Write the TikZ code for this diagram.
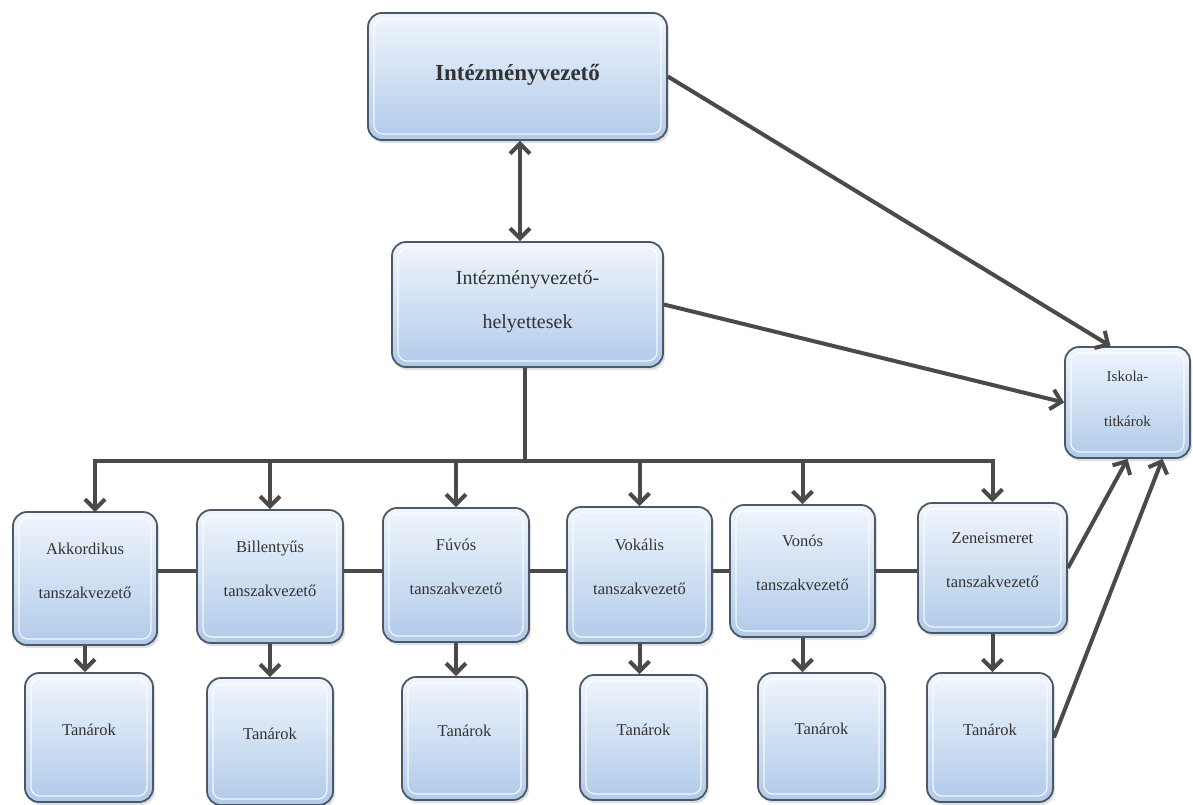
\documentclass[tikz,border=0pt]{standalone}
\usepackage{fontspec}
\setmainfont{Liberation Serif}
\usetikzlibrary{arrows.meta,shadows}
\definecolor{edge}{HTML}{4A4A4A}
\definecolor{boxline}{HTML}{4D5866}
\definecolor{boxtop}{HTML}{F0F6FD}
\definecolor{boxbot}{HTML}{B0CAE9}
\definecolor{txt}{HTML}{333333}
\begin{document}
\begin{tikzpicture}[x=1pt,y=-1pt,
  box/.style={draw=boxline, line width=1.8pt, rounded corners=14pt,
    top color=boxtop, bottom color=boxbot, inner sep=0pt, align=center, text=txt,
    drop shadow={shadow xshift=2pt,shadow yshift=-3pt,opacity=0.25},
    path picture={\draw[white, opacity=0.85, line width=1.2pt, rounded corners=9pt]
      ([xshift=6pt,yshift=6pt]path picture bounding box.south west) rectangle
      ([xshift=-6pt,yshift=-6pt]path picture bounding box.north east);}},
  small/.style={font=\fontsize{16.5}{44}\selectfont},
  conn/.style={draw=edge, line width=4pt},
  arr/.style={conn, -{Straight Barb[length=10pt,width=20pt]}},
  arrb/.style={conn, {Straight Barb[length=10pt,width=20pt]}-{Straight Barb[length=10pt,width=20pt]}}
]
\path[use as bounding box, fill=white] (0,0) rectangle (1193,805);

% top and middle
\node[box, font=\fontsize{23}{28}\selectfont\bfseries, minimum width=299pt, minimum height=127pt] (top) at (517.5,76.5) {Intézményvezető\\[-20pt]};
\node[box, font=\fontsize{20}{44}\selectfont, minimum width=271pt, minimum height=125pt] (mid) at (527.5,304.5) {Intézményvezető-\\helyettesek\\[-34pt]};
\node[box, font=\fontsize{15}{45}\selectfont, minimum width=125pt, minimum height=111pt] (isk) at (1127.5,402.5) {Iskola-\\titkárok\\[-37pt]};

% department heads
\node[box, small, minimum width=144pt, minimum height=133pt] (akk) at (85,578.5) {Akkordikus\\tanszakvezető\\[-28pt]};
\node[box, small, minimum width=146pt, minimum height=133pt] (bil) at (270,576.5) {Billentyűs\\tanszakvezető\\[-28pt]};
\node[box, small, minimum width=146pt, minimum height=134pt] (fuv) at (456,575) {Fúvós\\tanszakvezető\\[-28pt]};
\node[box, small, minimum width=145pt, minimum height=136pt] (vok) at (639.5,575) {Vokális\\tanszakvezető\\[-28pt]};
\node[box, small, minimum width=145pt, minimum height=132pt] (von) at (802.5,571) {Vonós\\tanszakvezető\\[-28pt]};
\node[box, small, minimum width=149pt, minimum height=130pt] (zen) at (992.5,568) {Zeneismeret\\tanszakvezető\\[-28pt]};

% teachers
\node[box, small, minimum width=128pt, minimum height=129pt] (akkT) at (89,737.5) {Tanárok\\[-28pt]};
\node[box, small, minimum width=126pt, minimum height=127pt] (bilT) at (270,741.5) {Tanárok\\[-28pt]};
\node[box, small, minimum width=125pt, minimum height=123pt] (fuvT) at (464.5,738.5) {Tanárok\\[-28pt]};
\node[box, small, minimum width=127pt, minimum height=125pt] (vokT) at (643.5,737.5) {Tanárok\\[-28pt]};
\node[box, small, minimum width=127pt, minimum height=127pt] (vonT) at (821.5,736.5) {Tanárok\\[-28pt]};
\node[box, small, minimum width=126pt, minimum height=129pt] (zenT) at (990,737.5) {Tanárok\\[-28pt]};

\coordinate (bus) at (0,461);
\coordinate (hl) at (0,571);
\coordinate (akkx) at (95,512);

% top <-> middle
\draw[arrb] (top.south -| 520,0) -- (mid.north -| 520,0);

% middle to bus
\draw[conn] (mid.south -| 525,0) -- (bus -| 525,0);
\draw[arr] (bus -| 525,0) -| (akkx);
\draw[arr] (bus -| 525,0) -| (zen.north);
\draw[arr] (bil.north |- bus) -- (bil.north);
\draw[arr] (fuv.north |- bus) -- (fuv.north);
\draw[arr] (vok.north |- bus) -- (vok.north);
\draw[arr] (von.north |- bus) -- (von.north);

% horizontal link between heads
\draw[conn] (akk.east |- hl) -- (bil.west |- hl);
\draw[conn] (bil.east |- hl) -- (fuv.west |- hl);
\draw[conn] (fuv.east |- hl) -- (vok.west |- hl);
\draw[conn] (vok.east |- hl) -- (von.west |- hl);
\draw[conn] (von.east |- hl) -- (zen.west |- hl);

% heads to teachers
\draw[arr] (akk.south) -- (akk.south |- akkT.north);
\draw[arr] (bil.south) -- (bil.south |- bilT.north);
\draw[arr] (fuv.south) -- (fuv.south |- fuvT.north);
\draw[arr] (vok.south) -- (vok.south |- vokT.north);
\draw[arr] (von.south) -- (von.south |- vonT.north);
\draw[arr] (zen.south) -- (zen.south |- zenT.north);

% to secretaries
\draw[arr] (top.east) -- ([xshift=-17pt]isk.north);
\draw[arr] (mid.east) -- (isk.west);
\draw[arr] (zen.east) -- (isk.south);
\draw[arr] (zenT.east) -- ([xshift=35pt]isk.south);
\end{tikzpicture}
\end{document}
